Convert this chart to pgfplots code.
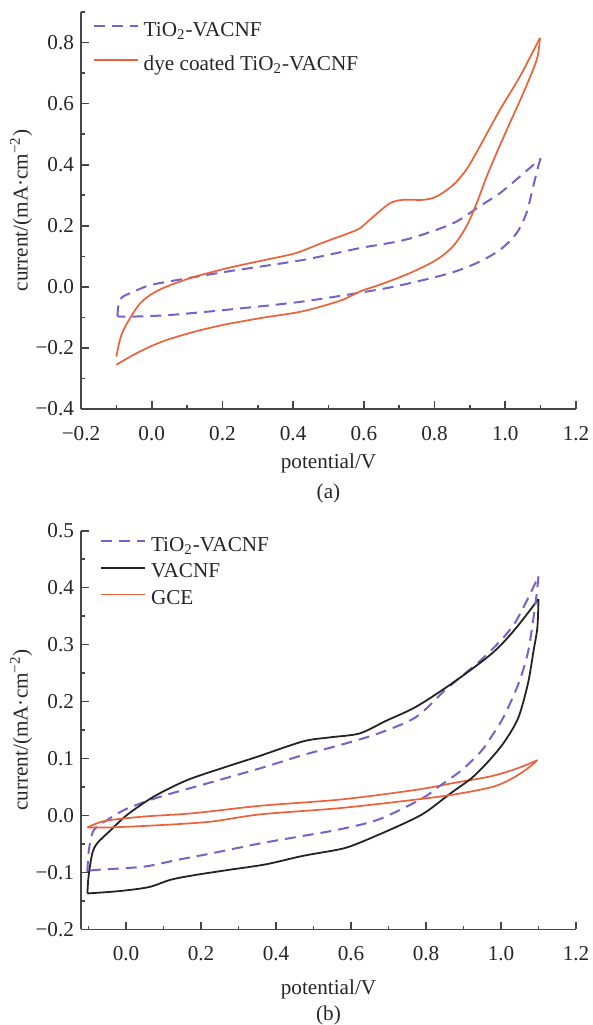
\documentclass[border=0pt]{standalone}
\usepackage{fontspec}
\setmainfont{Liberation Serif}
\usepackage{pgfplots}
\pgfplotsset{compat=1.18}

\definecolor{cvpurple}{RGB}{118,98,200}
\definecolor{cvred}{RGB}{236,96,58}
\definecolor{cvblack}{RGB}{35,35,35}
\definecolor{axgray}{RGB}{70,70,70}

\newcommand{\cvfont}{\fontsize{10.6bp}{12bp}\selectfont}

\pgfplotsset{
  cvaxis/.style={
    scale only axis,
    width=247.5bp,
    axis x line*=bottom, axis y line*=left,
    axis line style={axgray, line width=0.8bp},
    every tick/.style={axgray, line width=0.8bp},
    major tick length=3.8bp, minor tick length=1.8bp,
    tick align=inside,
    xmax=1.2,
    tick label style={font=\cvfont, text=black!85},
    xticklabel style={yshift=-5bp},
    label style={font=\cvfont, text=black!85},
    ylabel={current/(mA·cm\textsuperscript{−2})},
    xlabel={potential/V},
    legend cell align=left,
    legend style={draw=none, fill=none, inner sep=0pt, outer sep=0pt,
      anchor=north west, column sep=2.5bp,
      nodes={inner sep=0pt, text height=7.5bp, text depth=2.5bp, font=\cvfont, text=black!85}},
    legend image code/.code={\draw[##1] (0bp,2.5bp) -- (22bp,2.5bp);},
  },
  dashcv/.style={cvpurple, line width=1bp, dash pattern=on 5.5bp off 3.5bp, smooth, tension=0.5},
  redcv/.style={cvred, line width=0.85bp, smooth, tension=0.5},
  blackcv/.style={cvblack, line width=0.9bp, smooth, tension=0.5},
}

\begin{document}
\begin{tikzpicture}
\useasboundingbox (0,0) rectangle (296.5bp,-512.5bp);

% ---- panel (a)
\begin{axis}[cvaxis,
  at={(40.5bp,-204.5bp)}, anchor=south west,
  height=198.5bp,
  xmin=-0.2, ymin=-0.4, ymax=0.9,
  xtick={-0.2,0,0.2,0.4,0.6,0.8,1.0,1.2},
  xticklabels={−0.2,0.0,0.2,0.4,0.6,0.8,1.0,1.2},
  minor xtick={-0.1,0.1,0.3,0.5,0.7,0.9,1.1},
  ytick={-0.4,-0.2,0,0.2,0.4,0.6,0.8},
  yticklabels={−0.4,−0.2,0.0,0.2,0.4,0.6,0.8},
  minor ytick={-0.3,-0.1,0.1,0.3,0.5,0.7,0.9},
  xlabel style={at={(axis description cs:0.5,-0.136)}, anchor=center},
  ylabel style={at={(axis description cs:-0.121,0.5)}, anchor=center},
  legend style={at={(axis description cs:0.0236,1)}, yshift=-4.5bp, row sep=7bp},
]
% TiO2-VACNF, forward scan
\addplot[dashcv] coordinates {
(-0.097,-0.097) (-0.094,-0.06) (-0.085,-0.035) (-0.064,-0.022) (-0.03,-0.005)
(0.0,0.007) (0.075,0.023) (0.213,0.05) (0.427,0.088) (0.589,0.127)
(0.72,0.155) (0.85,0.207) (0.925,0.262) (0.985,0.307) (1.042,0.362) (1.1,0.42)};
\addlegendentry{TiO\textsubscript{2}-VACNF}
% dye coated, forward scan
\addplot[redcv] coordinates {
(-0.1,-0.228) (-0.09,-0.174) (-0.075,-0.13) (-0.032,-0.053) (0.021,-0.01)
(0.107,0.028) (0.213,0.061) (0.32,0.088) (0.406,0.11) (0.48,0.143)
(0.555,0.175) (0.589,0.192) (0.627,0.23) (0.674,0.274) (0.712,0.285)
(0.768,0.285) (0.806,0.296) (0.853,0.334) (0.89,0.384) (0.928,0.46)
(0.985,0.58) (1.042,0.69) (1.098,0.815)};
\addlegendentry{dye coated TiO\textsubscript{2}-VACNF}
% reverse scans
\addplot[dashcv, forget plot] coordinates {
(1.1,0.42) (1.093,0.394) (1.079,0.329) (1.06,0.242) (1.032,0.176)
(0.985,0.121) (0.919,0.078) (0.844,0.045) (0.73,0.012) (0.636,-0.01)
(0.427,-0.048) (0.213,-0.075) (0.053,-0.092) (-0.04,-0.097) (-0.097,-0.097)};
\addplot[redcv, forget plot] coordinates {
(1.098,0.815) (1.089,0.744) (1.051,0.635) (1.013,0.537) (0.976,0.44)
(0.947,0.36) (0.919,0.274) (0.891,0.2) (0.853,0.134) (0.806,0.089)
(0.73,0.045) (0.645,0.007) (0.589,-0.015) (0.534,-0.045) (0.427,-0.08)
(0.32,-0.1) (0.213,-0.122) (0.137,-0.142) (0.099,-0.154) (0.042,-0.174)
(-0.005,-0.196) (-0.052,-0.223) (-0.1,-0.255)};
\end{axis}

% ---- panel (b)
\begin{axis}[cvaxis,
  at={(40.5bp,-464.65bp)}, anchor=south west,
  height=199.3bp,
  xmin=-0.12, ymin=-0.2, ymax=0.5,
  xtick={0,0.2,0.4,0.6,0.8,1.0,1.2},
  xticklabels={0.0,0.2,0.4,0.6,0.8,1.0,1.2},
  minor xtick={-0.1,0.1,0.3,0.5,0.7,0.9,1.1},
  ytick={-0.2,-0.1,0,0.1,0.2,0.3,0.4,0.5},
  yticklabels={−0.2,−0.1,0.0,0.1,0.2,0.3,0.4,0.5},
  minor ytick={-0.15,-0.05,0.05,0.15,0.25,0.35,0.45},
  xlabel style={at={(axis description cs:0.5,-0.1505)}, anchor=center},
  ylabel style={at={(axis description cs:-0.121,0.5)}, anchor=center},
  legend style={at={(axis description cs:0.0384,1)}, yshift=-2.8bp, row sep=3.3bp},
]
\addplot[dashcv] coordinates {
(-0.103,-0.099) (-0.099,-0.061) (-0.086,-0.026) (-0.05,-0.008) (0.003,0.012)
(0.092,0.033) (0.199,0.053) (0.359,0.083) (0.472,0.106) (0.573,0.124)
(0.673,0.144) (0.774,0.173) (0.854,0.222) (0.955,0.278) (1.035,0.336) (1.1,0.42)};
\addlegendentry{TiO\textsubscript{2}-VACNF}
\addplot[blackcv] coordinates {
(-0.103,-0.137) (-0.101,-0.115) (-0.099,-0.102) (-0.09,-0.067) (-0.077,-0.049)
(-0.041,-0.026) (0.003,0.001) (0.074,0.033) (0.163,0.062) (0.27,0.086)
(0.35,0.103) (0.472,0.13) (0.543,0.137) (0.623,0.144) (0.693,0.166)
(0.774,0.191) (0.874,0.234) (0.975,0.284) (1.035,0.325) (1.1,0.38)};
\addlegendentry{VACNF}
\addplot[redcv] coordinates {
(-0.103,-0.021) (-0.07,-0.012) (-0.041,-0.008) (0.047,-0.002) (0.181,0.004)
(0.359,0.017) (0.573,0.028) (0.774,0.045) (0.874,0.057) (0.975,0.069)
(1.045,0.083) (1.097,0.097)};
\addlegendentry{GCE}
% reverse scans
\addplot[dashcv, forget plot] coordinates {
(1.1,0.42) (1.093,0.378) (1.073,0.29) (1.047,0.232) (1.007,0.173)
(0.971,0.135) (0.946,0.112) (0.896,0.08) (0.835,0.051) (0.785,0.028)
(0.674,-0.007) (0.573,-0.024) (0.472,-0.036) (0.359,-0.049) (0.225,-0.067)
(0.137,-0.078) (0.047,-0.09) (-0.086,-0.096) (-0.103,-0.099)};
\addplot[blackcv, forget plot] coordinates {
(1.1,0.38) (1.097,0.33) (1.087,0.29) (1.072,0.232) (1.047,0.173)
(1.015,0.135) (0.98,0.105) (0.926,0.068) (0.866,0.039) (0.795,0.004)
(0.725,-0.019) (0.623,-0.048) (0.573,-0.059) (0.472,-0.071) (0.372,-0.086)
(0.27,-0.096) (0.181,-0.105) (0.119,-0.113) (0.06,-0.126) (-0.02,-0.133)
(-0.103,-0.137)};
\addplot[redcv, forget plot] coordinates {
(1.097,0.097) (1.07,0.082) (1.03,0.065) (0.977,0.05) (0.877,0.037)
(0.775,0.028) (0.573,0.013) (0.36,0.002) (0.225,-0.011) (0.092,-0.017)
(-0.041,-0.021) (-0.103,-0.021)};
\end{axis}

\node[font=\cvfont, text=black!85] at (164.25bp,-246.5bp) {(a)};
\node[font=\cvfont, text=black!85] at (164.25bp,-507.5bp) {(b)};
\end{tikzpicture}
\end{document}
